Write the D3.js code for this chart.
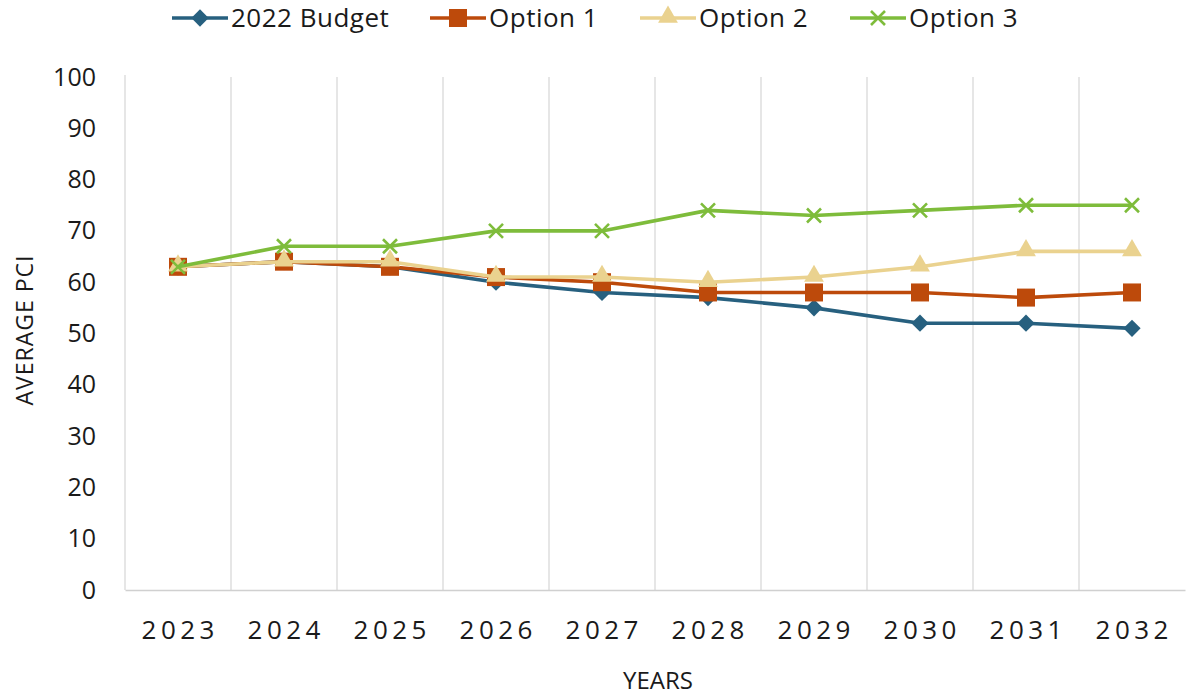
<!DOCTYPE html>
<html>
<head>
<meta charset="utf-8">
<script src="https://cdn.jsdelivr.net/npm/d3@7"></script>
<style>
  html, body { margin: 0; padding: 0; background: #fff; }
  svg { display: block; }
  text { fill: #1a1a1a; }
</style>
</head>
<body>
<svg id="chart" width="1188" height="696"></svg>
<script>
// Average PCI projections by funding scenario
const years = ["2023", "2024", "2025", "2026", "2027", "2028", "2029", "2030", "2031", "2032"];
const budget2022 = [63, 64, 63, 60, 58, 57, 55, 52, 52, 51];
const option1    = [63, 64, 63, 61, 60, 58, 58, 58, 57, 58];
const option2    = [63, 64, 64, 61, 61, 60, 61, 63, 66, 66];
const option3    = [63, 67, 67, 70, 70, 74, 73, 74, 75, 75];
const yTicks = [0, 10, 20, 30, 40, 50, 60, 70, 80, 90, 100];

const series = [
  { name: "2022 Budget", values: budget2022, color: "#27607f", marker: "diamond" },
  { name: "Option 1",    values: option1,    color: "#bd4a0b", marker: "square" },
  { name: "Option 2",    values: option2,    color: "#ead28f", marker: "triangle" },
  { name: "Option 3",    values: option3,    color: "#7ebc3b", marker: "cross" }
];

const svg = d3.select("#chart");
const margin = { left: 125, right: 3, top: 77, bottom: 106 };
const W = 1188, H = 696;

const x = d3.scaleBand().domain(years).range([margin.left, W - margin.right]).padding(0);
const y = d3.scaleLinear().domain([0, 100]).range([H - margin.bottom, margin.top]);

const font = "'Open Sans', sans-serif";

// vertical gridlines at category boundaries
svg.append("g")
  .selectAll("line")
  .data(years.slice(1))
  .join("line")
  .attr("x1", d => x(d)).attr("x2", d => x(d))
  .attr("y1", y(100)).attr("y2", y(0))
  .attr("stroke", "#d9d9d9").attr("stroke-width", 1.3);

// left axis line
svg.append("line")
  .attr("x1", margin.left).attr("x2", margin.left)
  .attr("y1", y(100) - 2).attr("y2", y(0))
  .attr("stroke", "#d9d9d9").attr("stroke-width", 1.3);

// y axis labels
const yAxis = d3.axisLeft(y).tickValues(yTicks).tickSize(0).tickPadding(29);
const gy = svg.append("g").attr("transform", `translate(${margin.left},0)`).call(yAxis);
gy.select(".domain").remove();
gy.selectAll("text")
  .attr("font-family", font)
  .attr("font-size", 25)
  .attr("fill", "#1a1a1a");

// bottom axis
const xAxis = d3.axisBottom(x).tickSize(0).tickPadding(31);
const gx = svg.append("g").attr("transform", `translate(0,${y(0)})`).call(xAxis);
gx.select(".domain").attr("stroke", "#d0d0d0").attr("stroke-width", 1.5);
gx.selectAll("text")
  .attr("font-family", font)
  .attr("font-size", 26)
  .attr("letter-spacing", "4.5px")
  .attr("dx", "2.25px")
  .attr("fill", "#1a1a1a");

// axis titles
svg.append("text")
  .attr("x", 658)
  .attr("y", 689)
  .attr("text-anchor", "middle")
  .attr("font-family", font)
  .attr("font-size", 24)
  .text("YEARS");

svg.append("text")
  .attr("transform", `translate(33,330) rotate(-90)`)
  .attr("text-anchor", "middle")
  .attr("font-family", font)
  .attr("font-size", 23)
  .attr("letter-spacing", "1px")
  .text("AVERAGE PCI");

function drawMarker(g, type, color, cx, cy) {
  if (type === "diamond") {
    g.append("path")
      .attr("d", d3.symbol(d3.symbolDiamond2, 190)())
      .attr("transform", `translate(${cx},${cy})`)
      .attr("fill", color);
  } else if (type === "square") {
    g.append("rect")
      .attr("x", cx - 9).attr("y", cy - 9).attr("width", 18).attr("height", 18)
      .attr("fill", color);
  } else if (type === "triangle") {
    g.append("path")
      .attr("d", d3.symbol(d3.symbolTriangle, 170)())
      .attr("transform", `translate(${cx},${cy - 1})`)
      .attr("fill", color);
  } else {
    g.append("path")
      .attr("d", `M${cx - 7},${cy - 7}L${cx + 7},${cy + 7}M${cx - 7},${cy + 7}L${cx + 7},${cy - 7}`)
      .attr("stroke", color).attr("stroke-width", 2.6).attr("fill", "none");
  }
}

const line = d3.line()
  .x((d, i) => x(years[i]) + x.bandwidth() / 2)
  .y(d => y(d));

series.forEach(s => {
  const g = svg.append("g");
  g.append("path")
    .datum(s.values)
    .attr("d", line)
    .attr("fill", "none")
    .attr("stroke", s.color)
    .attr("stroke-width", 3.6)
    .attr("stroke-linejoin", "round");
  s.values.forEach((v, i) => {
    drawMarker(g, s.marker, s.color, x(years[i]) + x.bandwidth() / 2, y(v));
  });
});

// legend
const legendPos = [
  { lx: 172, tx: 231 },
  { lx: 430, tx: 489 },
  { lx: 640, tx: 699 },
  { lx: 850, tx: 909 }
];
const legend = svg.append("g");
series.forEach((s, i) => {
  const p = legendPos[i];
  const g = legend.append("g");
  g.append("line")
    .attr("x1", p.lx).attr("x2", p.lx + 56)
    .attr("y1", 18).attr("y2", 18)
    .attr("stroke", s.color).attr("stroke-width", 3.6);
  drawMarker(g, s.marker, s.color, p.lx + 28, 18);
  g.append("text")
    .attr("x", p.tx).attr("y", 27)
    .attr("font-family", font)
    .attr("font-size", 26)
    .attr("letter-spacing", "0.5px")
    .text(s.name);
});
</script>
</body>
</html>
